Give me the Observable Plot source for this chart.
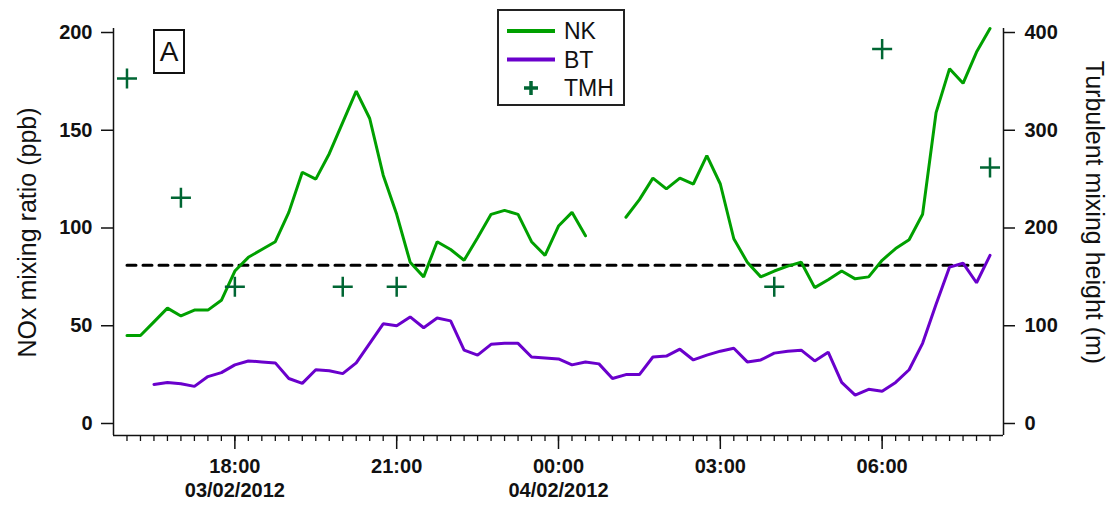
<!DOCTYPE html>
<html>
<head>
<meta charset="utf-8">
<script src="https://cdn.jsdelivr.net/npm/d3@7"></script>
<script src="https://cdn.jsdelivr.net/npm/@observablehq/plot@0.6"></script>
<style>
  html, body { margin: 0; padding: 0; background: #fff; }
  #wrap { position: relative; width: 1109px; height: 509px; font-family: "Liberation Sans", Arial, sans-serif; }
  #wrap svg.plot { position: absolute; left: 0; top: 0; }
  .ytitle { position: absolute; font-size: 25px; color: #111; white-space: nowrap; }
  #legend { position: absolute; left: 497px; top: 9px; width: 124px; height: 93px; border: 2px solid #222; background: #fff; }
  #abox { position: absolute; left: 153px; top: 29px; width: 28px; height: 41px; border: 2px solid #111; font-size: 28px; line-height: 41px; text-align: center; color: #111; }
</style>
</head>
<body>
<div id="wrap"></div>
<script>
// ---- data ----
const seriesStart = "2012-02-03T16:00:00Z";   // first 15-min sample
const xDomain = ["2012-02-03T15:45:00Z", "2012-02-04T08:15:00Z"];
const yDomain = [-6.14, 202.05];               // NOx ppb (left axis)
const yTicks = [0, 50, 100, 150, 200];

// NK NOx (ppb), every 15 min from 16:00 to 08:00 (null = no data)
const nkValues = [45, 45, 52, 59, 55, 58, 58, 63,
  78, 85, 89, 93, 108, 128.5, 125, 138,
  154, 170, 156, 127, 107, 82.5, 75, 93,
  89, 83.5, 95, 107, 109, 107, 93, 86,
  101, 108, 96, null, null, 105.5, 114.5, 125.5,
  120, 125.5, 122.5, 137, 122.5, 94.5, 82.5, 75,
  78, 80.5, 82.5, 69.5, 73.5, 78, 74, 75,
  83.5, 89.5, 94, 107, 159, 181.5, 174, 190, 202];

// BT NOx (ppb), same time grid
const btValues = [null, null, 20, 21, 20.3, 19, 24, 26,
  30, 32, 31.5, 31, 23, 20.5, 27.5, 27,
  25.5, 31, 41, 51, 50, 54.5, 49, 54,
  52.5, 37.5, 35, 40.5, 41, 41, 34, 33.5,
  33, 30, 31.5, 30.5, 23, 25, 25, 34,
  34.5, 38, 32.5, 35, 37, 38.5, 31.5, 32.5,
  36, 37, 37.5, 32, 36.5, 21, 14.5, 17.5,
  16.5, 21, 27.5, 41, 61, 80, 82, 72, 86];

// Turbulent mixing height (m), right axis
const tmhTimes = ["2012-02-03T16:00:00Z", "2012-02-03T17:00:00Z", "2012-02-03T18:00:00Z",
  "2012-02-03T20:00:00Z", "2012-02-03T21:00:00Z", "2012-02-04T04:00:00Z",
  "2012-02-04T06:00:00Z", "2012-02-04T08:00:00Z"];
const tmhValues = [353, 231, 140, 140, 140, 140, 383, 262];

// dashed reference level (ppb)
const refTimes = ["2012-02-03T16:00:00Z", "2012-02-04T08:00:00Z"];
const refLevel = 81;

// x axis ticks
const majorTicks = ["2012-02-03T18:00:00Z", "2012-02-03T21:00:00Z", "2012-02-04T00:00:00Z",
  "2012-02-04T03:00:00Z", "2012-02-04T06:00:00Z"];
const majorTimeLabels = ["18:00", "21:00", "00:00", "03:00", "06:00"];
const majorDateLabels = ["03/02/2012", "", "04/02/2012", "", ""];
const minorStart = "2012-02-03T16:00:00Z", minorEnd = "2012-02-04T08:00:00Z";

// right axis: metres = 2 x ppb
const rightFactor = 2;

const NK_COLOR = "#00a000", BT_COLOR = "#6a00cc", TMH_COLOR = "#006633";

// ---- build tables ----
const t0 = new Date(seriesStart);
const grid = nkValues.map((_, i) => new Date(+t0 + i * 15 * 60000));
const nk = nkValues.map((v, i) => ({t: grid[i], v}));
const bt = btValues.map((v, i) => ({t: grid[i], v}));
const tmh = tmhTimes.map((t, i) => ({t: new Date(t), m: tmhValues[i]}));
const ref = refTimes.map(t => ({t: new Date(t), v: refLevel}));
const majors = majorTicks.map(d => new Date(d));
const minors = d3.utcMinute.every(15).range(new Date(minorStart), new Date(+new Date(minorEnd) + 1));
const xd = xDomain.map(d => new Date(d));

const tickFont = {fontSize: 20, fontWeight: "bold", fill: "#111"};

const chart = Plot.plot({
  width: 1109, height: 509,
  marginLeft: 113, marginRight: 106, marginTop: 28, marginBottom: 74,
  style: {fontFamily: "'Liberation Sans', Arial, sans-serif", background: "transparent", overflow: "visible"},
  x: {type: "utc", domain: xd, axis: null},
  y: {domain: yDomain, axis: null},
  marks: [
    // axis frame lines
    Plot.ruleY([yDomain[0]], {stroke: "#111", strokeWidth: 1.5}),
    Plot.ruleX([xd[0]], {stroke: "#111", strokeWidth: 1.5}),
    Plot.ruleX([xd[1]], {stroke: "#111", strokeWidth: 1.5}),
    // left y axis
    Plot.axisY({anchor: "left", ticks: yTicks, tickSize: 12, tickPadding: 9, label: null,
      stroke: "#111", strokeWidth: 1.5, ...tickFont, tickFormat: d => String(d)}),
    // right y axis (metres)
    Plot.axisY({anchor: "right", ticks: yTicks, tickSize: 11, tickPadding: 10, label: null,
      stroke: "#111", strokeWidth: 1.5, ...tickFont, tickFormat: d => String(d * rightFactor)}),
    // x axis ticks
    Plot.axisX({anchor: "bottom", ticks: minors, tickSize: 6, tickFormat: () => "", label: null, stroke: "#111", strokeWidth: 1.3}),
    Plot.axisX({anchor: "bottom", ticks: majors, tickSize: 14, tickFormat: () => "", label: null, stroke: "#111", strokeWidth: 1.5}),
    Plot.text(majors, {x: d => d, frameAnchor: "bottom", dy: 37, text: (d, i) => majorTimeLabels[i], ...tickFont}),
    Plot.text(majors, {x: d => d, frameAnchor: "bottom", dy: 61, text: (d, i) => majorDateLabels[i], ...tickFont}),
    // dashed reference level
    Plot.line(ref, {x: "t", y: "v", stroke: "#000", strokeWidth: 3, strokeDasharray: "9,7"}),
    // series
    Plot.line(nk, {x: "t", y: "v", stroke: NK_COLOR, strokeWidth: 3, strokeLinejoin: "miter"}),
    Plot.line(bt, {x: "t", y: "v", stroke: BT_COLOR, strokeWidth: 3, strokeLinejoin: "miter"}),
    Plot.dot(tmh, {x: "t", y: d => d.m / rightFactor, symbol: "plus", r: 6.5, stroke: TMH_COLOR, strokeWidth: 2.5})
  ]
});
chart.classList.add("plot");
const wrap = document.getElementById("wrap");
wrap.appendChild(chart);

// axis titles
const lt = document.createElement("div");
lt.className = "ytitle";
lt.textContent = "NOx mixing ratio (ppb)";
wrap.appendChild(lt);
const rt = document.createElement("div");
rt.className = "ytitle";
rt.textContent = "Turbulent mixing height (m)";
wrap.appendChild(rt);
function place(el, cx, cy, deg) {
  const w = el.offsetWidth, h = el.offsetHeight;
  el.style.left = (cx - w / 2) + "px";
  el.style.top = (cy - h / 2) + "px";
  el.style.transform = `rotate(${deg}deg)`;
}
place(lt, 27, 232, -90);
place(rt, 1094, 212, 90);

// panel label
const ab = document.createElement("div");
ab.id = "abox"; ab.textContent = "A";
wrap.appendChild(ab);

// legend
const lg = document.createElement("div");
lg.id = "legend";
const entries = [
  {label: "NK", kind: "line", color: NK_COLOR},
  {label: "BT", kind: "line", color: BT_COLOR},
  {label: "TMH", kind: "plus", color: TMH_COLOR}
];
const ns = "http://www.w3.org/2000/svg";
const ls = document.createElementNS(ns, "svg");
ls.setAttribute("width", 124); ls.setAttribute("height", 93);
ls.style.position = "absolute"; ls.style.left = "0"; ls.style.top = "0";
entries.forEach((e, i) => {
  const y = 20 + i * 28.5;
  if (e.kind === "line") {
    const l = document.createElementNS(ns, "line");
    l.setAttribute("x1", 8); l.setAttribute("x2", 56); l.setAttribute("y1", y); l.setAttribute("y2", y);
    l.setAttribute("stroke", e.color); l.setAttribute("stroke-width", 4);
    ls.appendChild(l);
  } else {
    const p = document.createElementNS(ns, "path");
    p.setAttribute("d", `M${32 - 7},${y}H${32 + 7}M32,${y - 7}V${y + 7}`);
    p.setAttribute("stroke", e.color); p.setAttribute("stroke-width", 3.5);
    ls.appendChild(p);
  }
  const t = document.createElementNS(ns, "text");
  t.setAttribute("x", 65); t.setAttribute("y", y);
  t.setAttribute("dy", "0.36em");
  t.setAttribute("font-size", 23);
  t.setAttribute("fill", "#111");
  t.setAttribute("font-family", "'Liberation Sans', Arial, sans-serif");
  t.textContent = e.label;
  ls.appendChild(t);
});
lg.appendChild(ls);
wrap.appendChild(lg);
</script>
</body>
</html>
